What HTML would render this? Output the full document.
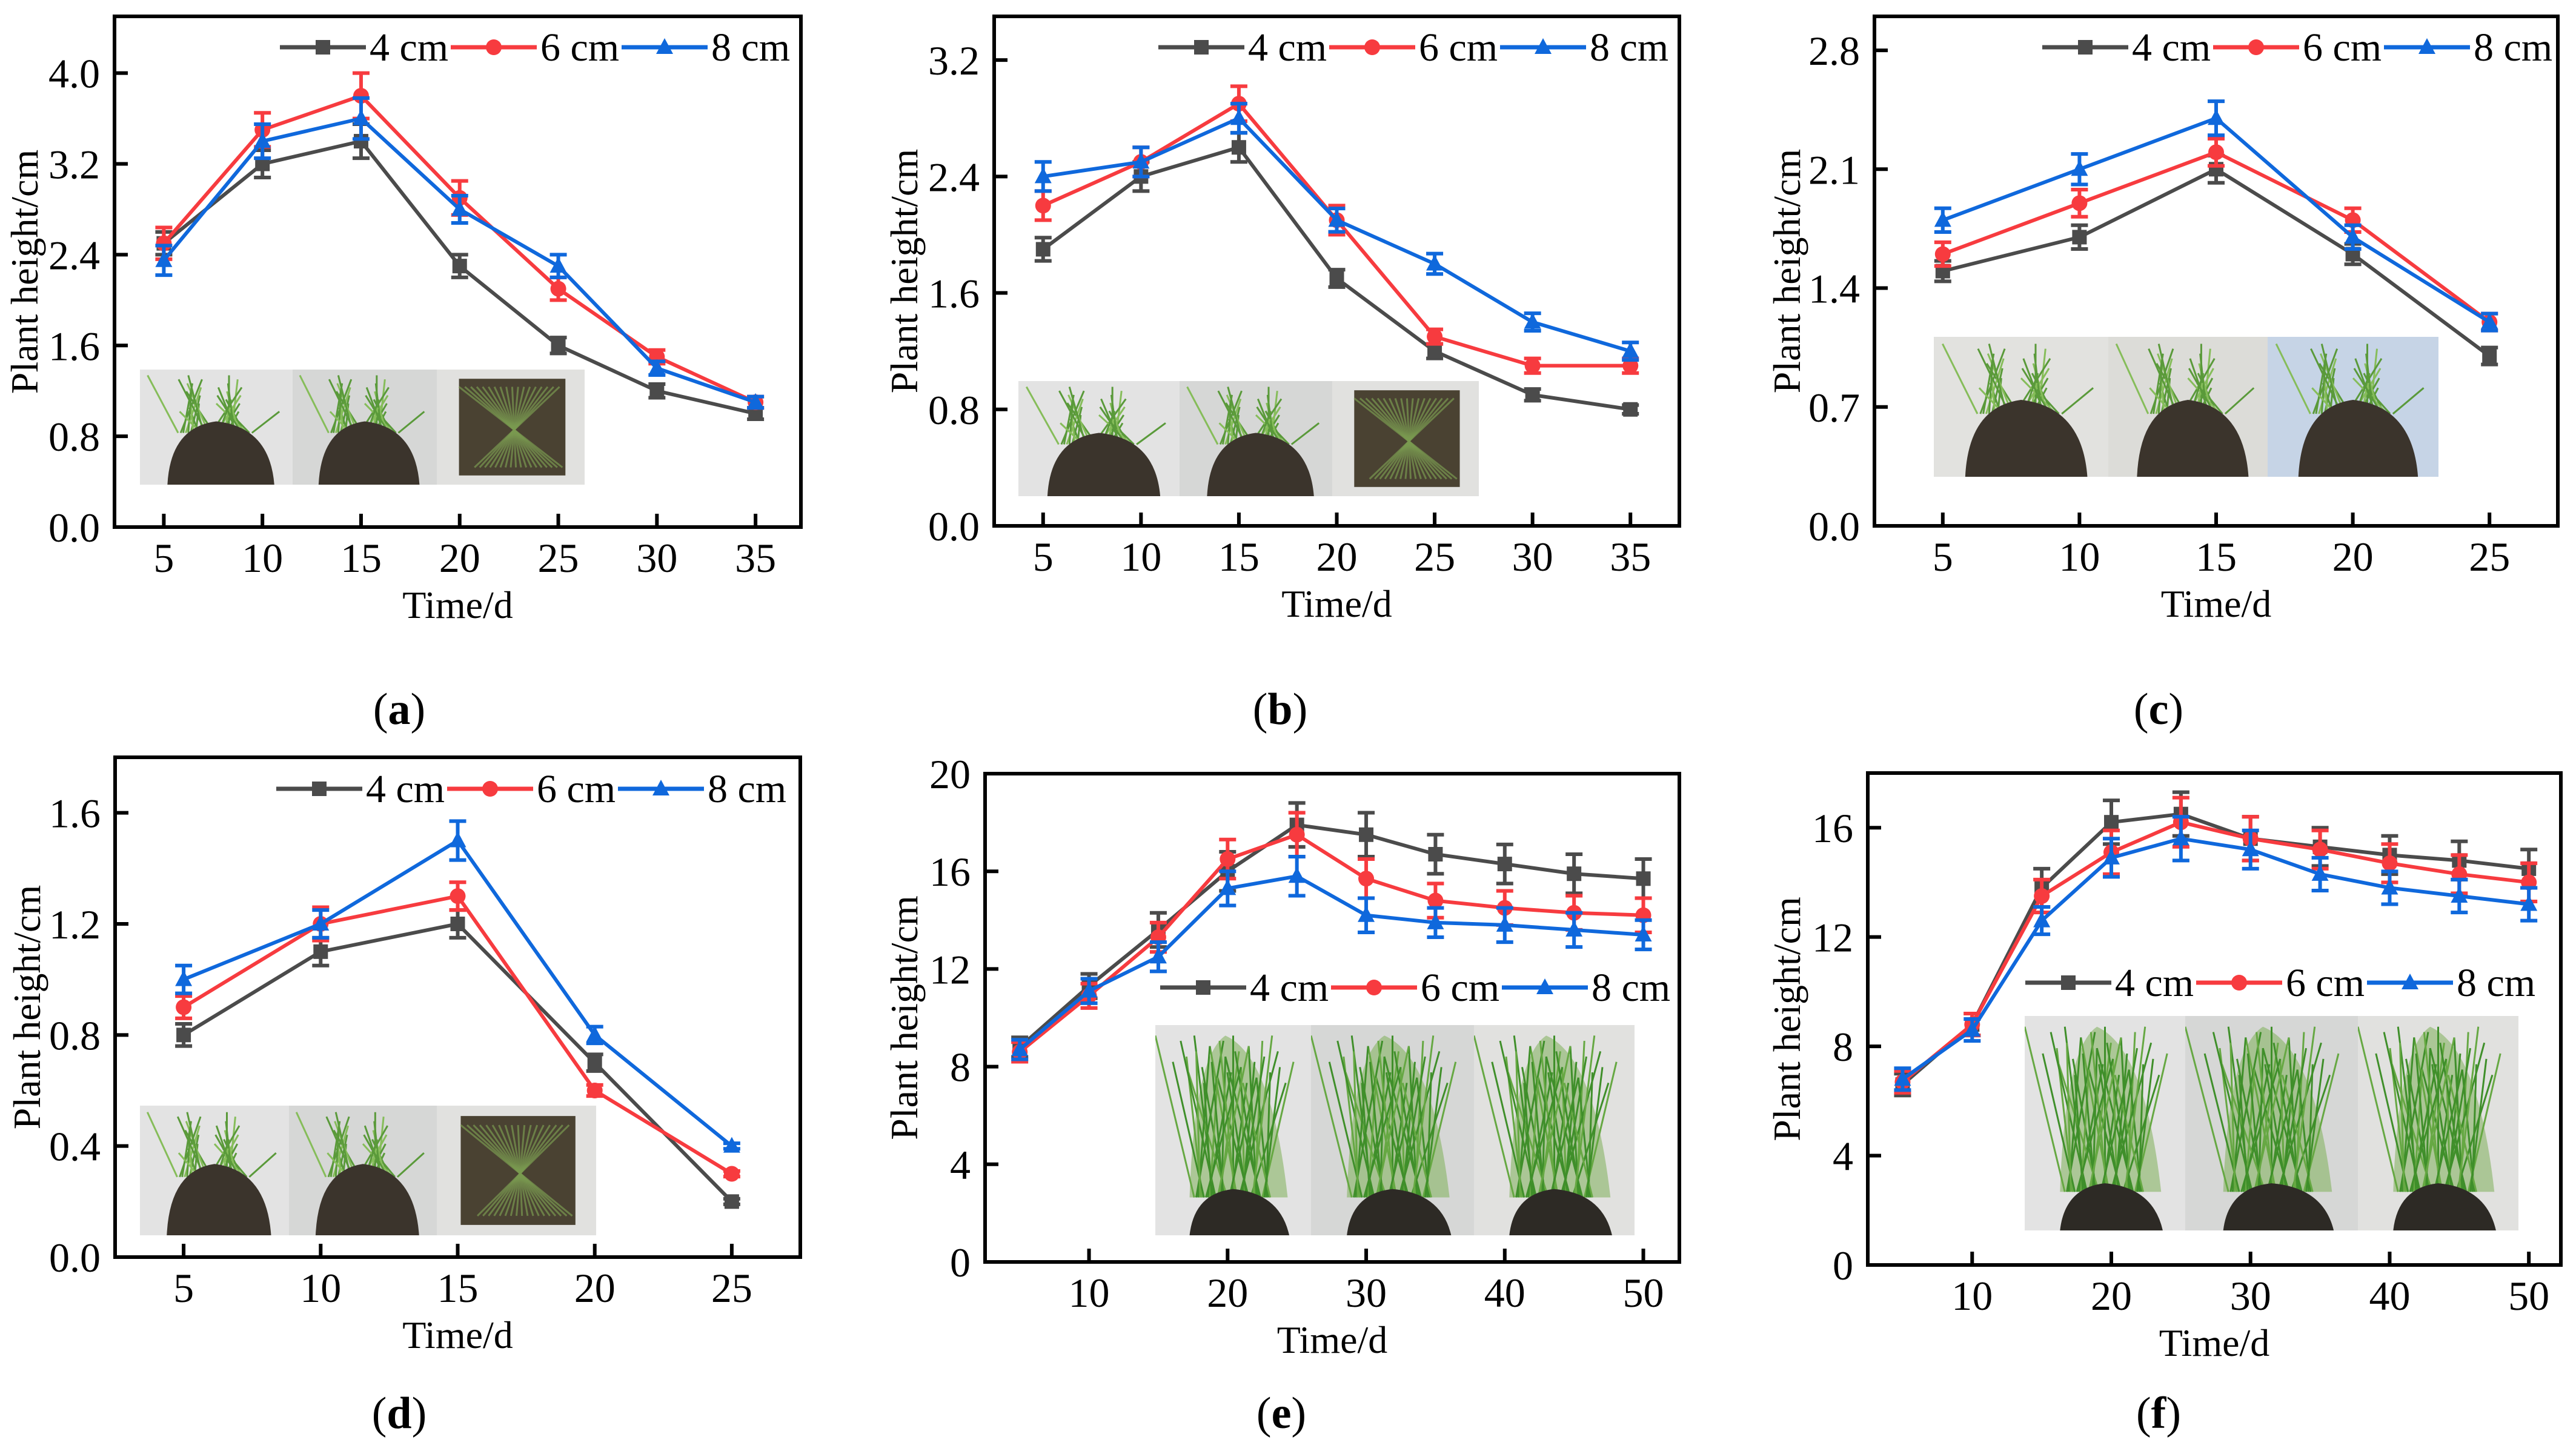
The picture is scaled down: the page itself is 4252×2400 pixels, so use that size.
<!DOCTYPE html>
<html><head><meta charset="utf-8">
<style>
html,body{margin:0;padding:0;background:#fff;}
svg{display:block;}
text{font-family:"Liberation Serif","Times New Roman",serif;}
</style></head>
<body>
<svg id="fig" width="4252" height="2400" viewBox="0 0 4252 2400" xmlns="http://www.w3.org/2000/svg" font-family="Liberation Serif, serif"></svg>
<script>
// ---- data (a) ----
const aDays=[5,10,15,20,25,30,35];
const a4=[2.5,3.2,3.4,2.3,1.6,1.2,1.0];
const a6=[2.5,3.5,3.8,2.9,2.1,1.5,1.1];
const a8=[2.35,3.4,3.6,2.8,2.3,1.4,1.1];
const aErr4=[0.1,0.12,0.15,0.1,0.07,0.06,0.05];
const aErr6=[0.14,0.15,0.2,0.15,0.1,0.06,0.05];
const aErr8=[0.13,0.15,0.18,0.12,0.1,0.06,0.05];
const aTicksY=["0.0","0.8","1.6","2.4","3.2","4.0"];
// ---- data (b) ----
const bDays=[5,10,15,20,25,30,35];
const b4=[1.9,2.4,2.6,1.7,1.2,0.9,0.8];
const b6=[2.2,2.5,2.9,2.1,1.3,1.1,1.1];
const b8=[2.4,2.5,2.8,2.1,1.8,1.4,1.2];
const bErr4=[0.08,0.1,0.1,0.06,0.05,0.04,0.03];
const bErr6=[0.1,0.1,0.12,0.1,0.05,0.05,0.05];
const bErr8=[0.1,0.1,0.1,0.08,0.07,0.06,0.06];
const bTicksY=["0.0","0.8","1.6","2.4","3.2"];
// ---- data (c) ----
const cDays=[5,10,15,20,25];
const c4=[1.5,1.7,2.1,1.6,1.0];
const c6=[1.6,1.9,2.2,1.8,1.2];
const c8=[1.8,2.1,2.4,1.7,1.2];
const cErr4=[0.06,0.07,0.08,0.06,0.05];
const cErr6=[0.07,0.08,0.08,0.07,0.05];
const cErr8=[0.07,0.09,0.1,0.07,0.05];
const cTicksY=["0.0","0.7","1.4","2.1","2.8"];
// ---- data (d) ----
const dDays=[5,10,15,20,25];
const d4=[0.8,1.1,1.2,0.7,0.2];
const d6=[0.9,1.2,1.3,0.6,0.3];
const d8=[1.0,1.2,1.5,0.8,0.4];
const dErr4=[0.04,0.05,0.05,0.03,0.01];
const dErr6=[0.04,0.06,0.05,0.02,0.01];
const dErr8=[0.05,0.05,0.07,0.03,0.01];
const dTicksY=["0.0","0.4","0.8","1.2","1.6"];
// ---- data (e) ----
const eDays=[5,10,15,20,25,30,35,40,45,50];
const e4=[8.8,11.3,13.6,16.0,17.9,17.5,16.7,16.3,15.9,15.7];
const e6=[8.6,10.9,13.3,16.5,17.5,15.7,14.8,14.5,14.3,14.2];
const e8=[8.7,11.1,12.5,15.3,15.8,14.2,13.9,13.8,13.6,13.4];
const eErr4=[0.4,0.5,0.7,0.8,0.9,0.9,0.8,0.8,0.8,0.8];
const eErr6=[0.4,0.5,0.6,0.8,0.9,0.8,0.7,0.7,0.7,0.7];
const eErr8=[0.4,0.5,0.6,0.7,0.8,0.7,0.6,0.7,0.7,0.6];
const eTicksY=["0","4","8","12","16","20"];
const eTicksX=["10","20","30","40","50"];
// ---- data (f) ----
const fDays=[5,10,15,20,25,30,35,40,45,50];
const f4=[6.6,8.8,13.8,16.2,16.5,15.6,15.3,15.0,14.8,14.5];
const f6=[6.7,8.8,13.5,15.1,16.2,15.6,15.2,14.7,14.3,14.0];
const f8=[6.8,8.6,12.6,14.9,15.6,15.2,14.3,13.8,13.5,13.2];
const fErr4=[0.4,0.4,0.7,0.8,0.8,0.8,0.7,0.7,0.7,0.7];
const fErr6=[0.4,0.4,0.6,0.8,0.9,0.8,0.7,0.7,0.7,0.7];
const fErr8=[0.4,0.4,0.5,0.7,0.8,0.7,0.6,0.6,0.6,0.6];
const fTicksY=["0","4","8","12","16"];
const fTicksX=["10","20","30","40","50"];
const seriesNames=["4 cm","6 cm","8 cm"];

const NS="http://www.w3.org/2000/svg";
const svg=document.getElementById('fig');
const defs=document.createElementNS(NS,'defs');svg.appendChild(defs);
const COLORS=["#4b4b4b","#f73b3f","#0f68dc"];
const FONT='"Liberation Serif", "Times New Roman", serif';
function mk(tag,attrs,parent){const e=document.createElementNS(NS,tag);for(const k in attrs)e.setAttribute(k,attrs[k]);(parent||svg).appendChild(e);return e;}
function txt(attrs,parent,content){attrs['font-family']=FONT;const t=mk('text',attrs,parent);t.textContent=content;return t;}
let clipN=0;
function photo(g,x,y,w,h,kind,idx){
  const id='clip'+(clipN++);
  const cp=mk('clipPath',{id:id},defs);
  mk('rect',{x:x,y:y,width:w,height:h},cp);
  const pg=mk('g',{'clip-path':'url(#'+id+')'},g);
  const bgs=kind==='c'?["#e2e2df","#dcdcd8","#c6d4e6"]:["#e3e3e3","#d6d7d6","#e1e1df"];
  mk('rect',{x:x,y:y,width:w,height:h,fill:bgs[idx]},pg);
  if(kind==='tall'){
    mk('path',{d:`M${x+w*0.22},${y+h*0.82} Q${x+w*0.25},${y+h*0.15} ${x+w*0.45},${y+h*0.05} Q${x+w*0.75},${y+h*0.15} ${x+w*0.85},${y+h*0.82}Z`,fill:"#7fb05a",opacity:"0.55"},pg);
    for(let k=0;k<40;k++){
      const bx=x+w*(0.25+0.5*((k*37)%40)/40);
      const tx=bx+w*(((k*53)%21)-10)/40;
      const ty=y+h*(0.05+0.25*((k*17)%10)/10);
      mk('line',{x1:bx,y1:y+h*0.82,x2:tx,y2:ty,stroke:(k%3?"#3f8f2a":"#66a843"),"stroke-width":3},pg);
    }
    mk('path',{d:`M${x+w*0.22},${y+h} Q${x+w*0.25},${y+h*0.8} ${x+w*0.5},${y+h*0.78} Q${x+w*0.8},${y+h*0.8} ${x+w*0.86},${y+h}Z`,fill:"#2d2a25"},pg);
  } else if(idx===2 && kind!=='c'){
    mk('rect',{x:x+w*0.15,y:y+h*0.08,width:w*0.72,height:h*0.84,fill:"#4a4232"},pg);
    for(let k=0;k<18;k++){
      mk('line',{x1:x+w*(0.15+0.04*k),y1:y+h*0.15,x2:x+w*(0.85-0.035*k),y2:y+h*0.85,stroke:"#7a9a50","stroke-width":3,opacity:"0.7"},pg);
    }
  } else {
    for(let k=0;k<30;k++){
      const bx=x+w*(0.25+0.5*((k*37)%30)/30);
      const tx=bx+w*(((k*53)%21)-10)/50;
      const ty=y+h*(0.05+0.35*((k*17)%10)/10);
      mk('line',{x1:bx,y1:y+h*0.55,x2:tx,y2:ty,stroke:(k%3?"#5a9a3a":"#86bd5a"),"stroke-width":3},pg);
    }
    mk('path',{d:`M${x+w*0.18},${y+h} Q${x+w*0.2},${y+h*0.5} ${x+w*0.5},${y+h*0.45} Q${x+w*0.85},${y+h*0.5} ${x+w*0.88},${y+h}Z`,fill:"#3b342c"},pg);
  }
}

function panel(o){
  const g=mk('g',{});
  
  
  const sx=v=>o.L+(v-o.x0)/(o.x1-o.x0)*(o.R-o.L);
  const sy=v=>o.B-(v-o.y0)/(o.y1-o.y0)*(o.B-o.T);
  const pg=mk('g',{},g);
  
  
  for(let i=0;i<3;i++){photo(pg,o.ph[i],o.ph[4],o.ph[i+1]-o.ph[i],o.ph[5]-o.ph[4],o.kind,i);}
  const box=mk('rect',{x:o.L,y:o.T,width:o.R-o.L,height:o.B-o.T,fill:"none",stroke:"#000","stroke-width":6},g);
  
  
  o.ticksY.forEach(t=>{
    const y=sy(parseFloat(t));
    mk('line',{x1:o.L,y1:y,x2:o.L+22,y2:y,stroke:"#000","stroke-width":6},g);
    const tx=txt({x:o.L-24,y:y+24,"font-size":68,"text-anchor":"end",fill:"#000"},g,t);
    
    
  });
  o.ticksX.forEach(t=>{
    const x=sx(parseFloat(t));
    mk('line',{x1:x,y1:o.B,x2:x,y2:o.B-22,stroke:"#000","stroke-width":6},g);
    const tx=txt({x:x,y:o.B+74,"font-size":68,"text-anchor":"middle",fill:"#000"},g,t);
    
    
  });
  const xt=txt({x:(o.L+o.R)/2,y:o.B+150,"font-size":64,"text-anchor":"middle"},g,"Time/d");
  
  
  const yt=txt({x:0,y:0,"font-size":64,"text-anchor":"middle",transform:`translate(${o.yx},${(o.T+o.B)/2}) rotate(-90)`},g,"Plant height/cm");
  
  
  const pl=txt({x:o.lx,y:o.ly,"font-size":74,"text-anchor":"middle"},g,"");
  pl.innerHTML='(<tspan font-weight="bold">'+o.id+'</tspan>)';
  
  
  o.series.forEach((s,si)=>{
    const c=COLORS[si];
    const sg=mk('g',{},g);
    
    
    const pts=o.days.map((d,i)=>sx(d)+','+sy(s[i])).join(' ');
    mk('polyline',{points:pts,fill:"none",stroke:c,"stroke-width":6},sg);
    o.days.forEach((d,i)=>{
      const x=sx(d),y1=sy(s[i]+o.errs[si][i]),y2=sy(s[i]-o.errs[si][i]);
      const eb=mk('path',{d:`M${x},${y1}V${y2}M${x-14},${y1}H${x+14}M${x-14},${y2}H${x+14}`,stroke:c,"stroke-width":6,fill:"none"},sg);
      
      
      marker(sg,si,x,sy(s[i]));
    });
  });
  const lg=mk('g',{},g);
  
  
  seriesNames.forEach((n,si)=>{
    const x=o.legX+si*282,y=o.legY;
    mk('line',{x1:x,y1:y,x2:x+142,y2:y,stroke:COLORS[si],"stroke-width":7},lg);
    marker(lg,si,x+71,y);
    const t=txt({x:x+148,y:y+22,"font-size":66},lg,n);
    
    
  });
}
function marker(g,si,x,y){
  const c=COLORS[si];let m;
  if(si===0)m=mk('rect',{x:x-12,y:y-12,width:24,height:24,fill:c},g);
  else if(si===1)m=mk('circle',{cx:x,cy:y,r:13,fill:c},g);
  else m=mk('polygon',{points:`${x},${y-15} ${x+14},${y+11} ${x-14},${y+11}`,fill:c},g);
  
  
}

panel({id:'a',L:189,R:1322,T:27,B:870,x0:2.5,x1:37.3,y0:0,y1:4.5,days:aDays,series:[a4,a6,a8],errs:[aErr4,aErr6,aErr8],ticksY:aTicksY,ticksX:["5","10","15","20","25","30","35"],yx:62,lx:659,ly:1195,legX:462,legY:78,ph:[231,483,721,965,610,800],kind:'s'});
panel({id:'b',L:1641,R:2772,T:27,B:868,x0:2.5,x1:37.5,y0:0,y1:3.5,days:bDays,series:[b4,b6,b8],errs:[bErr4,bErr6,bErr8],ticksY:bTicksY,ticksX:["5","10","15","20","25","30","35"],yx:1514,lx:2113,ly:1195,legX:1912,legY:78,ph:[1681,1947,2199,2441,629,819],kind:'s'});
panel({id:'c',L:3094,R:4222,T:27,B:868,x0:2.5,x1:27.5,y0:0,y1:3.0,days:cDays,series:[c4,c6,c8],errs:[cErr4,cErr6,cErr8],ticksY:cTicksY,ticksX:["5","10","15","20","25"],yx:2971,lx:3563,ly:1195,legX:3371,legY:78,ph:[3192,3480,3743,4025,556,787],kind:'c'});
panel({id:'d',L:190,R:1321,T:1250,B:2075,x0:2.5,x1:27.5,y0:0,y1:1.8,days:dDays,series:[d4,d6,d8],errs:[dErr4,dErr6,dErr8],ticksY:dTicksY,ticksX:["5","10","15","20","25"],yx:66,lx:659,ly:2357,legX:456,legY:1302,ph:[231,477,721,984,1825,2039],kind:'s'});
panel({id:'e',L:1626,R:2772,T:1277,B:2083,x0:2.5,x1:52.6,y0:0,y1:20,days:eDays,series:[e4,e6,e8],errs:[eErr4,eErr6,eErr8],ticksY:eTicksY,ticksX:eTicksX,yx:1514,lx:2115,ly:2357,legX:1915,legY:1630,ph:[1907,2164,2433,2698,1692,2039],kind:'tall'});
panel({id:'f',L:3083,R:4227,T:1276,B:2088,x0:2.5,x1:52.3,y0:0,y1:18,days:fDays,series:[f4,f6,f8],errs:[fErr4,fErr6,fErr8],ticksY:fTicksY,ticksX:fTicksX,yx:2971,lx:3563,ly:2357,legX:3343,legY:1622,ph:[3342,3607,3892,4157,1677,2031],kind:'tall'});
</script>
</body></html>
